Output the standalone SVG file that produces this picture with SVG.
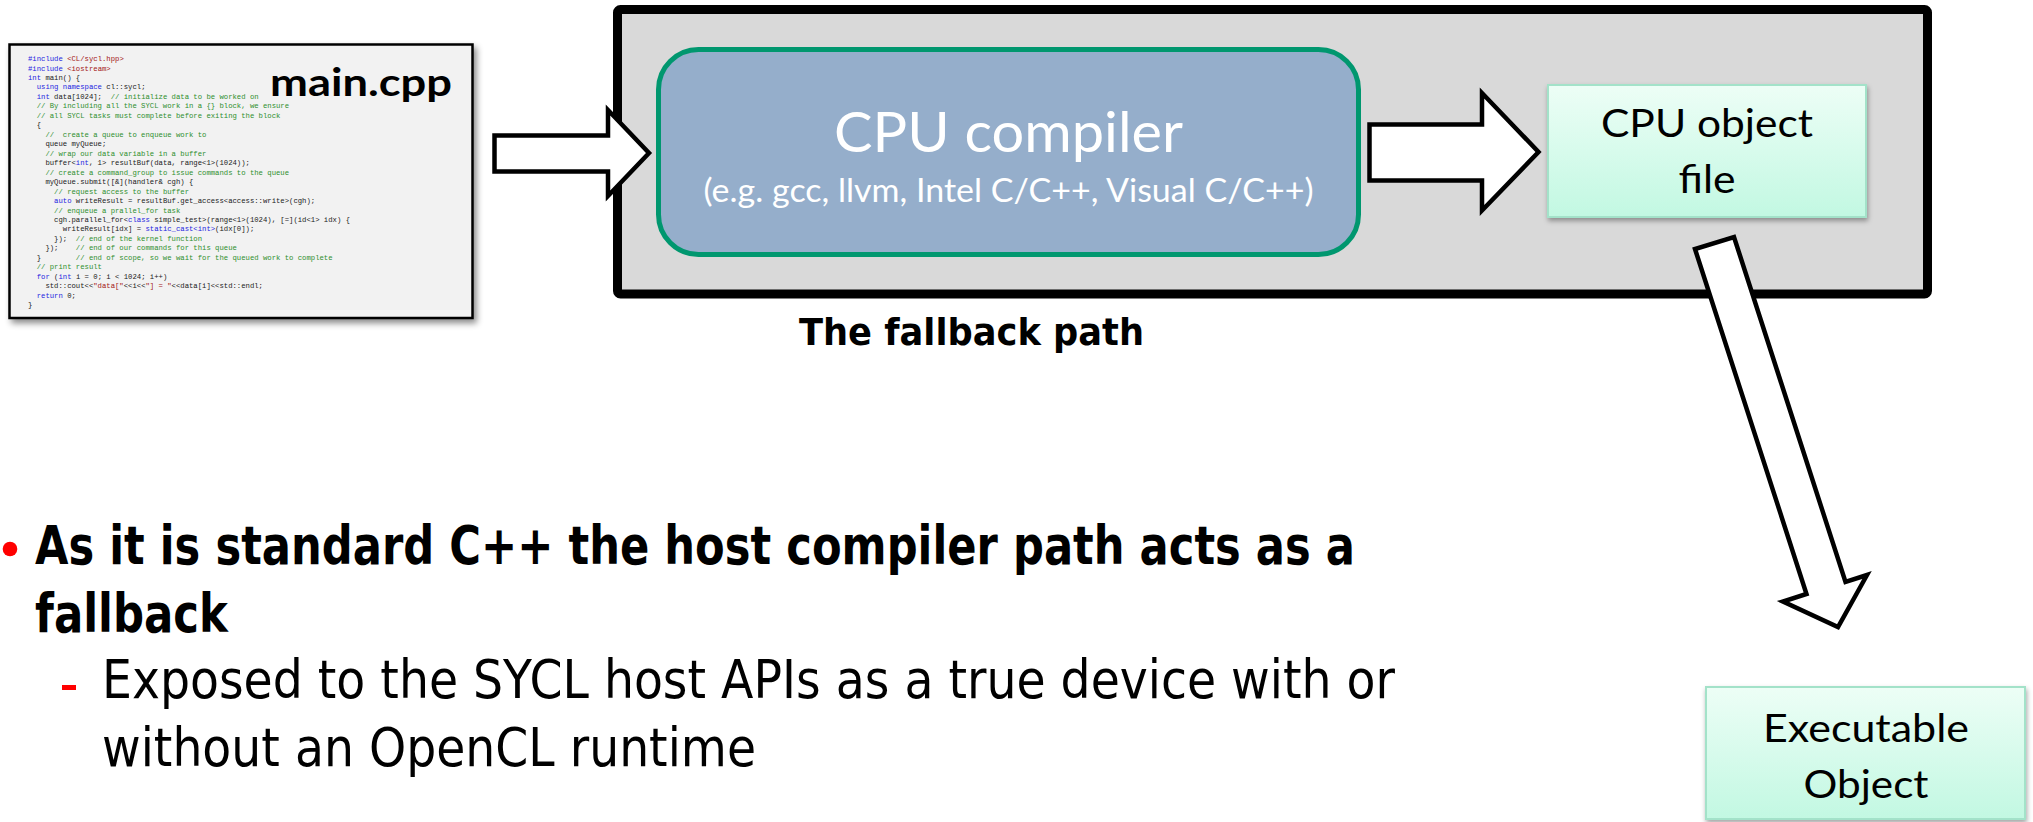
<svg xmlns="http://www.w3.org/2000/svg" width="2033" height="822" viewBox="0 0 2033 822">
<defs>
  <filter id="shadow" x="-10%" y="-10%" width="125%" height="130%">
    <feDropShadow dx="3" dy="4" stdDeviation="3" flood-color="#000" flood-opacity="0.45"/>
  </filter>
  <filter id="shadow2" x="-10%" y="-10%" width="125%" height="130%">
    <feDropShadow dx="1" dy="3" stdDeviation="2.5" flood-color="#000" flood-opacity="0.35"/>
  </filter>
  <linearGradient id="mint" x1="0" y1="0" x2="0" y2="1">
    <stop offset="0" stop-color="#EDFEF6"/>
    <stop offset="1" stop-color="#C2F8E2"/>
  </linearGradient>
  <style>
    .code { font-family: "Liberation Mono", "DejaVu Sans Mono", monospace; font-size: 7.25px; fill: #1a1a1a; white-space: pre; }
    .kw { fill: #1E1EE0; }
    .cm { fill: #2E8F2E; }
    .st { fill: #A31515; }
    .cal { font-family: Lato, "Noto Sans", sans-serif; }
    .tah { font-family: "DejaVu Sans", Verdana, sans-serif; fill: #000; }
    .arrow { fill: #fff; stroke: #000; stroke-width: 4.5; stroke-linejoin: miter; stroke-miterlimit: 10; }
    .mintbox { fill: url(#mint); stroke: #A3E2C9; stroke-width: 2; }
  </style>
</defs>

<!-- main.cpp code snippet -->
<g id="main-cpp">
  <rect x="9.5" y="44.5" width="463" height="273.5" fill="#F2F2F2" stroke="#000" stroke-width="2.5" filter="url(#shadow)"/>
  <g class="code">
    <text xml:space="preserve" x="28" y="61"><tspan class="kw">#include</tspan> <tspan class="st">&lt;CL/sycl.hpp&gt;</tspan></text>
    <text xml:space="preserve" x="28" y="70.5"><tspan class="kw">#include</tspan> <tspan class="st">&lt;iostream&gt;</tspan></text>
    <text xml:space="preserve" x="28" y="80"><tspan class="kw">int</tspan> main() {</text>
    <text xml:space="preserve" x="28" y="89.4">  <tspan class="kw">using namespace</tspan> cl::sycl;</text>
    <text xml:space="preserve" x="28" y="98.9">  <tspan class="kw">int</tspan> data[1024];  <tspan class="cm">// initialize data to be worked on</tspan></text>
    <text xml:space="preserve" x="28" y="108.4">  <tspan class="cm">// By including all the SYCL work in a {} block, we ensure</tspan></text>
    <text xml:space="preserve" x="28" y="117.8">  <tspan class="cm">// all SYCL tasks must complete before exiting the block</tspan></text>
    <text xml:space="preserve" x="28" y="127.3">  {</text>
    <text xml:space="preserve" x="28" y="136.8">    <tspan class="cm">//  create a queue to enqueue work to</tspan></text>
    <text xml:space="preserve" x="28" y="146.2">    queue myQueue;</text>
    <text xml:space="preserve" x="28" y="155.7">    <tspan class="cm">// wrap our data variable in a buffer</tspan></text>
    <text xml:space="preserve" x="28" y="165.2">    buffer&lt;<tspan class="kw">int</tspan>, 1&gt; resultBuf(data, range&lt;1&gt;(1024));</text>
    <text xml:space="preserve" x="28" y="174.6">    <tspan class="cm">// create a command_group to issue commands to the queue</tspan></text>
    <text xml:space="preserve" x="28" y="184.1">    myQueue.submit([&amp;](handler&amp; cgh) {</text>
    <text xml:space="preserve" x="28" y="193.6">      <tspan class="cm">// request access to the buffer</tspan></text>
    <text xml:space="preserve" x="28" y="203">      <tspan class="kw">auto</tspan> writeResult = resultBuf.get_access&lt;access::write&gt;(cgh);</text>
    <text xml:space="preserve" x="28" y="212.5">      <tspan class="cm">// enqueue a prallel_for task</tspan></text>
    <text xml:space="preserve" x="28" y="222">      cgh.parallel_for&lt;<tspan class="kw">class</tspan> simple_test&gt;(range&lt;1&gt;(1024), [=](id&lt;1&gt; idx) {</text>
    <text xml:space="preserve" x="28" y="231.4">        writeResult[idx] = <tspan class="kw">static_cast&lt;int&gt;</tspan>(idx[0]);</text>
    <text xml:space="preserve" x="28" y="240.9">      });  <tspan class="cm">// end of the kernel function</tspan></text>
    <text xml:space="preserve" x="28" y="250.4">    });    <tspan class="cm">// end of our commands for this queue</tspan></text>
    <text xml:space="preserve" x="28" y="259.8">  }        <tspan class="cm">// end of scope, so we wait for the queued work to complete</tspan></text>
    <text xml:space="preserve" x="28" y="269.3">  <tspan class="cm">// print result</tspan></text>
    <text xml:space="preserve" x="28" y="278.8">  <tspan class="kw">for</tspan> (<tspan class="kw">int</tspan> i = 0; i &lt; 1024; i++)</text>
    <text xml:space="preserve" x="28" y="288.2">    std::cout&lt;&lt;<tspan class="st">"data["</tspan>&lt;&lt;i&lt;&lt;<tspan class="st">"] = "</tspan>&lt;&lt;data[i]&lt;&lt;std::endl;</text>
    <text xml:space="preserve" x="28" y="297.7">  <tspan class="kw">return</tspan> 0;</text>
    <text xml:space="preserve" x="28" y="307.2">}</text>
  </g>
  <text class="cal" x="361" y="96" font-size="39" font-weight="bold" text-anchor="middle" textLength="182" lengthAdjust="spacingAndGlyphs" fill="#000">main.cpp</text>
</g>

<!-- fallback path container -->
<g id="fallback-path">
  <rect x="617.5" y="9.5" width="1310" height="284.5" rx="3" fill="#D9D9D9" stroke="#000" stroke-width="9"/>
  <text class="tah" x="971.5" y="345" font-size="38" font-weight="bold" text-anchor="middle" textLength="345" lengthAdjust="spacingAndGlyphs">The fallback path</text>
</g>

<!-- CPU compiler -->
<g id="cpu-compiler">
  <rect x="658.5" y="49.5" width="700" height="205" rx="40" fill="#95AECB" stroke="#00976F" stroke-width="5"/>
  <text class="cal" x="1008.5" y="152" font-size="57" fill="#fff" text-anchor="middle" textLength="349" lengthAdjust="spacingAndGlyphs">CPU compiler</text>
  <text class="cal" x="1008.5" y="202" font-size="32" fill="#fff" text-anchor="middle" textLength="610" lengthAdjust="spacingAndGlyphs">(e.g. gcc, llvm, Intel C/C++, Visual C/C++)</text>
</g>

<!-- CPU object file -->
<g id="cpu-object-file">
  <rect class="mintbox" x="1548" y="85" width="318" height="132" filter="url(#shadow2)"/>
  <text class="cal" x="1707" y="137" font-size="38" fill="#000" text-anchor="middle" textLength="212" lengthAdjust="spacingAndGlyphs">CPU object</text>
  <text class="cal" x="1707" y="193" font-size="38" fill="#000" text-anchor="middle" textLength="57" lengthAdjust="spacingAndGlyphs">file</text>
</g>

<!-- Executable Object -->
<g id="executable-object">
  <rect class="mintbox" x="1706" y="687" width="319" height="132" filter="url(#shadow2)"/>
  <text class="cal" x="1866" y="742" font-size="38" fill="#000" text-anchor="middle" textLength="206" lengthAdjust="spacingAndGlyphs">Executable</text>
  <text class="cal" x="1866" y="798" font-size="38" fill="#000" text-anchor="middle" textLength="125" lengthAdjust="spacingAndGlyphs">Object</text>
</g>

<!-- connectors (block arrows) -->
<g id="connectors">
  <polygon class="arrow" points="494.5,135.5 608,135.5 608,110 649,153 608,196 608,171.5 494.5,171.5"/>
  <polygon class="arrow" points="1369.5,124.5 1482,124.5 1482,93 1538.5,152 1482,210.5 1482,180.5 1369.5,180.5"/>
  <polygon class="arrow" points="1695,249 1806.5,594 1783,601.5 1838,627 1867,575 1845.5,582 1734,237" stroke-width="4"/>
</g>

<!-- bullet text -->
<g id="bullets">
  <circle cx="10" cy="549" r="7.3" fill="#FF0000"/>
  <text class="tah" x="35" y="564" font-size="53" font-weight="bold" textLength="1320" lengthAdjust="spacingAndGlyphs">As it is standard C++ the host compiler path acts as a</text>
  <text class="tah" x="35" y="632" font-size="53" font-weight="bold" textLength="193" lengthAdjust="spacingAndGlyphs">fallback</text>
  <rect x="62" y="685" width="14" height="5" fill="#FF0000"/>
  <text class="tah" x="102" y="698" font-size="54" textLength="1293" lengthAdjust="spacingAndGlyphs">Exposed to the SYCL host APIs as a true device with or</text>
  <text class="tah" x="102" y="766" font-size="54" textLength="654" lengthAdjust="spacingAndGlyphs">without an OpenCL runtime</text>
</g>
</svg>
